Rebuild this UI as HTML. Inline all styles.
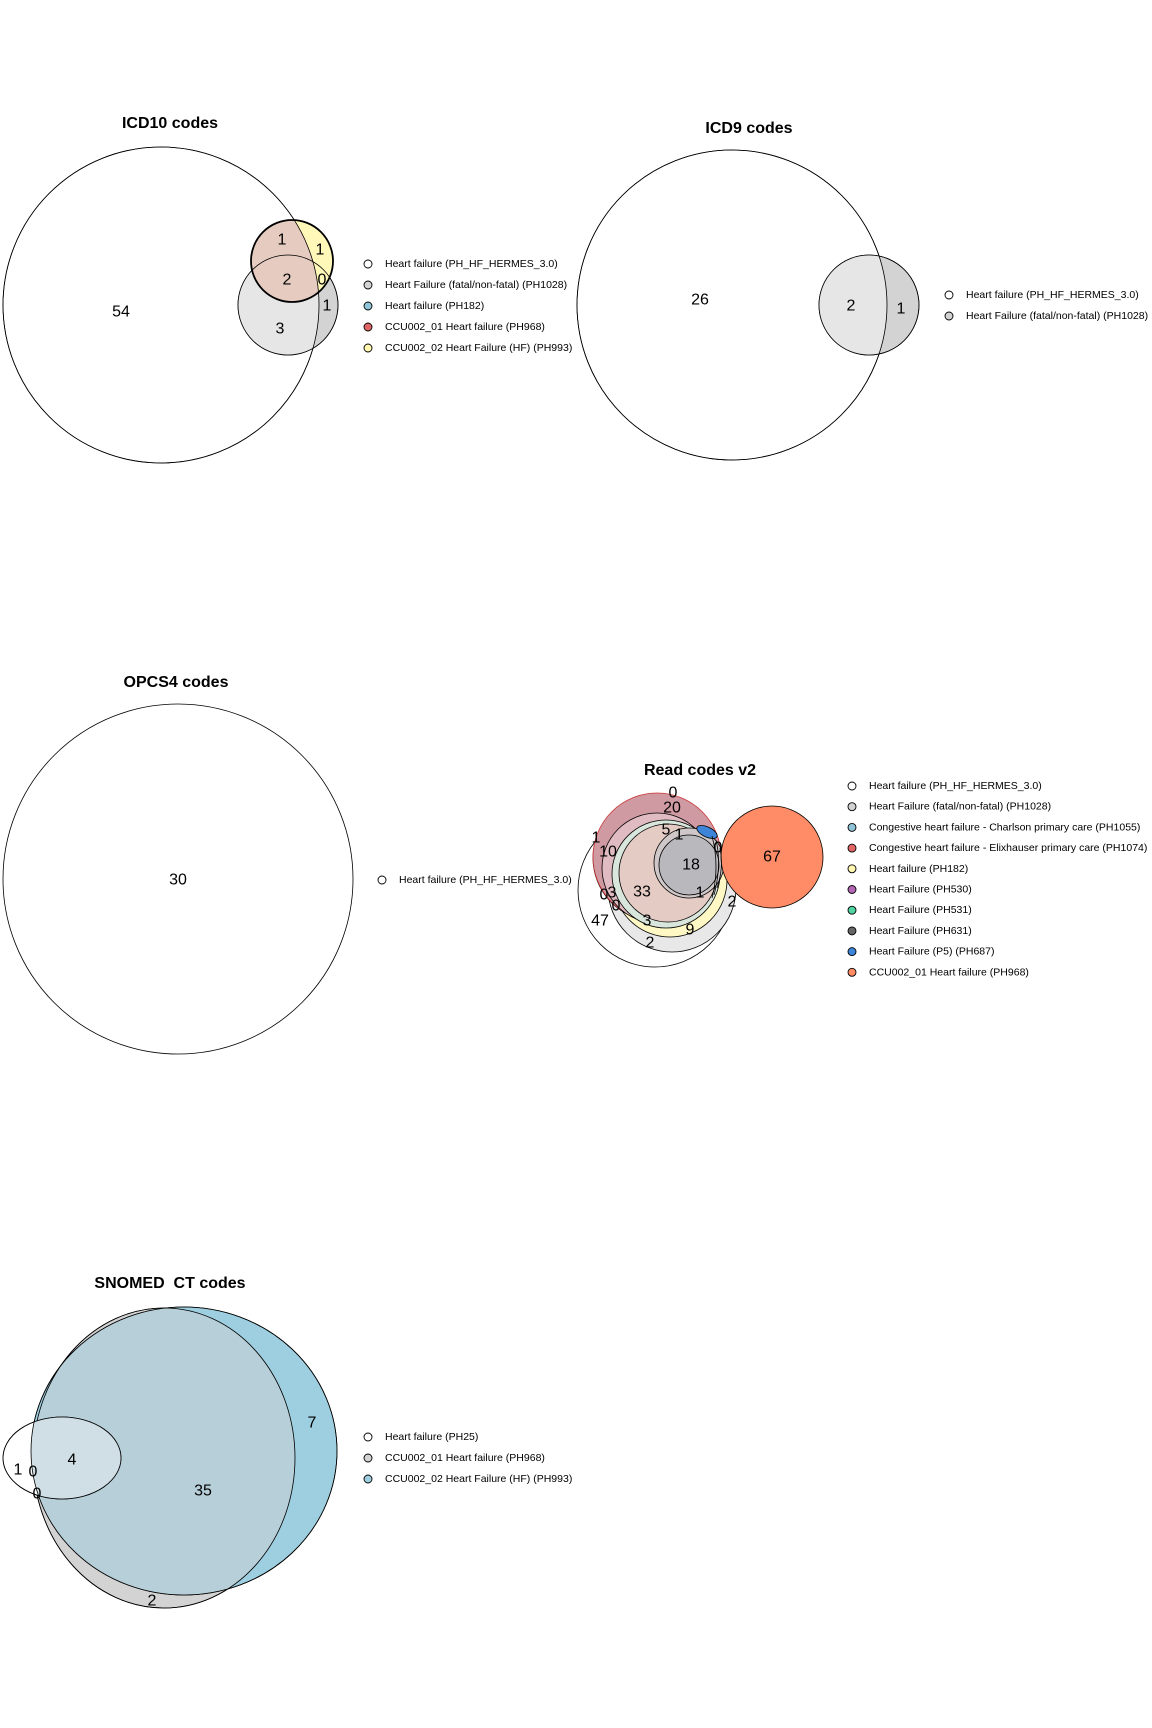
<!DOCTYPE html>
<html><head><meta charset="utf-8"><style>
html,body{margin:0;padding:0;background:#fff}
svg{display:block;font-family:"Liberation Sans",sans-serif}
.t{font-weight:bold;font-size:16px;text-anchor:middle}
.n{font-size:16px;text-anchor:middle;dominant-baseline:central}
.l{font-size:10.5px;dominant-baseline:central}
</style></head><body>
<svg id="s" width="1152" height="1728" viewBox="0 0 1152 1728">
<rect width="1152" height="1728" fill="#fff"/>
<defs>
<clipPath id="icd10big"><circle cx="161" cy="305" r="158"/></clipPath>
<clipPath id="icd9big"><circle cx="732" cy="305" r="155"/></clipPath>
<clipPath id="snoBlue"><ellipse cx="184" cy="1451" rx="153" ry="144"/></clipPath>
</defs>

<!-- ICD10 -->
<g>
<text class="t" x="170" y="128">ICD10 codes</text>
<circle cx="161" cy="305" r="158" fill="#fff" stroke="#000" stroke-width="0.8"/>
<circle cx="288" cy="305" r="50" fill="#d3d3d3" stroke="#000" stroke-width="0.8"/>
<circle cx="288" cy="305" r="50" fill="#e6e6e6" clip-path="url(#icd10big)"/>
<circle cx="292" cy="261" r="41" fill="#fff8b8" stroke="none"/>
<circle cx="292" cy="261" r="41" fill="#e5cbc0" clip-path="url(#icd10big)"/>
<circle cx="288" cy="305" r="50" fill="none" stroke="#000" stroke-width="0.8"/>
<circle cx="161" cy="305" r="158" fill="none" stroke="#000" stroke-width="0.8"/>
<circle cx="292" cy="261" r="41" fill="none" stroke="#000" stroke-width="1.8"/>
<g id="icd10labels"></g>
<g id="icd10legend"></g>
</g>

<!-- ICD9 -->
<g>
<text class="t" x="749" y="133">ICD9 codes</text>
<circle cx="732" cy="305" r="155" fill="#fff" stroke="#000" stroke-width="0.8"/>
<circle cx="869" cy="305" r="50" fill="#d3d3d3" stroke="#000" stroke-width="0.8"/>
<circle cx="869" cy="305" r="50" fill="#e6e6e6" clip-path="url(#icd9big)"/>
<circle cx="869" cy="305" r="50" fill="none" stroke="#000" stroke-width="0.8"/>
<circle cx="732" cy="305" r="155" fill="none" stroke="#000" stroke-width="0.8"/>
<g id="icd9labels"></g>
<g id="icd9legend"></g>
</g>

<!-- OPCS4 -->
<g>
<text class="t" x="176" y="687">OPCS4 codes</text>
<circle cx="178" cy="879" r="175" fill="#fff" stroke="#000" stroke-width="0.8"/>
<g id="opcslabels"></g>
<g id="opcslegend"></g>
</g>

<!-- Read v2 -->
<g>
<text class="t" x="700" y="775">Read codes v2</text>
<g stroke="#000" stroke-width="0.8">
<circle cx="655" cy="890" r="77" fill="#fff"/>
<circle cx="672" cy="888" r="64" fill="#e8e8e8"/>
<circle cx="670" cy="880" r="57" fill="#fff8c4"/>
<circle cx="656" cy="858" r="63" fill="#d8e9ee"/>
<circle cx="657" cy="857" r="64" fill="#d09aa3" stroke="#c33"/>
<circle cx="657" cy="868" r="55" fill="#e0bcc2"/>
<circle cx="666" cy="874" r="54" fill="#d9e6dc"/>
<circle cx="668" cy="873" r="49" fill="#e4cbc3"/>
<circle cx="689" cy="863" r="35" fill="#d0c8c8"/>
<circle cx="689" cy="865" r="30" fill="#b8b8bd"/>
<ellipse cx="707" cy="832" rx="11" ry="5" fill="#3d85d8" transform="rotate(25 707 832)"/>
<circle cx="772" cy="857" r="51" fill="#ff8c66"/>
<path d="M716 840 q6 25 -2 55 M720 848 q4 20 -3 40 M712 836 q8 30 0 62" fill="none"/>
</g>
<g id="readlabels"></g>
<g id="readlegend"></g>
</g>

<!-- SNOMED -->
<g>
<text class="t" x="170" y="1288">SNOMED&#160; CT codes</text>
<ellipse cx="164" cy="1458" rx="131" ry="150" fill="#d3d3d3" stroke="#000" stroke-width="0.8"/>
<ellipse cx="184" cy="1451" rx="153" ry="144" fill="#9ecfe0" stroke="#000" stroke-width="0.8"/>
<ellipse cx="164" cy="1458" rx="131" ry="150" fill="#b7cfd8" clip-path="url(#snoBlue)"/>
<ellipse cx="164" cy="1458" rx="131" ry="150" fill="none" stroke="#000" stroke-width="0.8"/>
<ellipse cx="62" cy="1458" rx="59" ry="41" fill="#fff" stroke="#000" stroke-width="0.8"/>
<g clip-path="url(#snoBlue)"><ellipse cx="62" cy="1458" rx="59" ry="41" fill="#d0dfe6"/></g>
<ellipse cx="62" cy="1458" rx="59" ry="41" fill="none" stroke="#000" stroke-width="0.8"/>
<ellipse cx="184" cy="1451" rx="153" ry="144" fill="none" stroke="#000" stroke-width="0.8"/>
<g id="snolabels"></g>
<g id="snolegend"></g>
</g>
</svg>
<script>
const icd10Counts=["1","1","2","0","1","3","54"];
const icd10Pos=[[282,240],[320,250],[287,280],[322,280],[327,306],[280,329],[121,312]];
const icd10Sets=["Heart failure (PH_HF_HERMES_3.0)","Heart Failure (fatal/non-fatal) (PH1028)","Heart failure (PH182)","CCU002_01 Heart failure (PH968)","CCU002_02 Heart Failure (HF) (PH993)"];
const icd10Cols=["#ffffff","#d3d3d3","#8fc4d8","#e06666","#fff6b0"];
const icd9Counts=["26","2","1"];
const icd9Pos=[[700,300],[851,306],[901,309]];
const icd9Sets=["Heart failure (PH_HF_HERMES_3.0)","Heart Failure (fatal/non-fatal) (PH1028)"];
const icd9Cols=["#ffffff","#d3d3d3"];
const opcsCounts=["30"];
const opcsPos=[[178,880]];
const opcsSets=["Heart failure (PH_HF_HERMES_3.0)"];
const opcsCols=["#ffffff"];
const readCounts=["0","20","5","1","10","18","33","1","0","3","0","47","3","9","2","1","2","0","67"];
const readPos=[[673,793],[672,808],[666,830],[679,835],[608,852],[691,865],[642,892],[596,838],[604,895],[612,893],[616,906],[600,921],[647,921],[690,930],[650,943],[700,893],[732,902],[718,848],[772,857]];
const readSets=["Heart failure (PH_HF_HERMES_3.0)","Heart Failure (fatal/non-fatal) (PH1028)","Congestive heart failure - Charlson primary care (PH1055)","Congestive heart failure - Elixhauser primary care (PH1074)","Heart failure (PH182)","Heart Failure (PH530)","Heart Failure (PH531)","Heart Failure (PH631)","Heart Failure (P5) (PH687)","CCU002_01 Heart failure (PH968)"];
const readCols=["#ffffff","#d3d3d3","#8fc4d8","#e06666","#fff6b0","#b366b3","#4fd1a0","#666666","#3d85d8","#ff8c66"];
const snoCounts=["1","0","0","4","35","7","2"];
const snoPos=[[18,1470],[33,1472],[37,1494],[72,1460],[203,1491],[312,1423],[152,1601]];
const snoSets=["Heart failure (PH25)","CCU002_01 Heart failure (PH968)","CCU002_02 Heart Failure (HF) (PH993)"];
const snoCols=["#ffffff","#d3d3d3","#9ecfe0"];
const NS="http://www.w3.org/2000/svg";
function labels(id,counts,pos){
  const g=document.getElementById(id);
  counts.forEach((c,i)=>{
    const t=document.createElementNS(NS,"text");
    t.setAttribute("class","n");
    t.setAttribute("x",pos[i][0]);t.setAttribute("y",pos[i][1]);
    t.textContent=c;
    
    
    g.appendChild(t);
  });
}
function legend(id,sets,cols,x,y0,step){
  const g=document.getElementById(id);
  sets.forEach((s,i)=>{
    const y=y0+i*step;
    const e=document.createElementNS(NS,"g");
    
    
    const c=document.createElementNS(NS,"circle");
    c.setAttribute("cx",x);c.setAttribute("cy",y);c.setAttribute("r",4);
    c.setAttribute("fill",cols[i]);c.setAttribute("stroke","#000");c.setAttribute("stroke-width","0.9");
    const t=document.createElementNS(NS,"text");
    t.setAttribute("class","l");t.setAttribute("x",x+17);t.setAttribute("y",y);
    t.textContent=s;
    e.appendChild(c);e.appendChild(t);g.appendChild(e);
  });
}
labels("icd10labels",icd10Counts,icd10Pos);
legend("icd10legend",icd10Sets,icd10Cols,368,264,21);
labels("icd9labels",icd9Counts,icd9Pos);
legend("icd9legend",icd9Sets,icd9Cols,949,295,21);
labels("opcslabels",opcsCounts,opcsPos);
legend("opcslegend",opcsSets,opcsCols,382,880,21);
labels("readlabels",readCounts,readPos);
legend("readlegend",readSets,readCols,852,786,20.7);
labels("snolabels",snoCounts,snoPos);
legend("snolegend",snoSets,snoCols,368,1437,21);
</script>
</body></html>
